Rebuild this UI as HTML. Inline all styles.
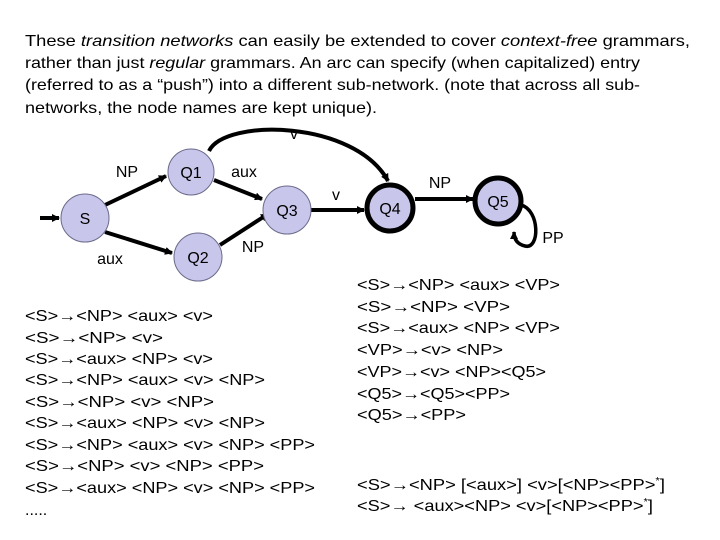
<!DOCTYPE html>
<html><head><meta charset="utf-8"><style>
html,body{margin:0;padding:0;background:#fff;}
svg{display:block;}
text{font-family:"Liberation Sans",Arial,sans-serif;fill:#000;}
</style></head><body>
<svg width="720" height="540" viewBox="0 0 720 540" xmlns="http://www.w3.org/2000/svg">
<defs>
<marker id="ah" markerWidth="8" markerHeight="8" refX="7" refY="4" orient="auto" markerUnits="userSpaceOnUse">
<path d="M0,0 L8,4 L0,8 z" fill="#000"/></marker>
</defs>
<g font-size="16">
<text x="25" y="46" textLength="665" lengthAdjust="spacingAndGlyphs">These <tspan font-style="italic">transition networks</tspan> can easily be extended to cover <tspan font-style="italic">context-free</tspan> grammars,</text>
<text x="25" y="68" textLength="615" lengthAdjust="spacingAndGlyphs">rather than just <tspan font-style="italic">regular</tspan> grammars. An arc can specify (when capitalized) entry</text>
<text x="25" y="90" textLength="615" lengthAdjust="spacingAndGlyphs">(referred to as a “push”) into a different sub-network. (note that across all sub-</text>
<text x="25" y="113" textLength="352" lengthAdjust="spacingAndGlyphs">networks, the node names are kept unique).</text>
</g>
<!-- edges -->
<g stroke="#000" stroke-width="4" fill="none">
<line x1="40" y1="218" x2="59" y2="218" marker-end="url(#ah)"/>
<line x1="105" y1="205" x2="166" y2="176" marker-end="url(#ah)"/>
<line x1="105" y1="232" x2="172" y2="253" marker-end="url(#ah)"/>
<line x1="214" y1="180" x2="262" y2="199" marker-end="url(#ah)"/>
<line x1="220" y1="245" x2="268" y2="214" marker-end="url(#ah)"/>
<line x1="311" y1="210" x2="364" y2="210" marker-end="url(#ah)"/>
<line x1="415" y1="199" x2="473" y2="199" marker-end="url(#ah)"/>
<path d="M209,151 C225,118 355,120 388,181" marker-end="url(#ah)"/>
<path d="M521,205 C540,210 540,250 525,246 C516,244 514,238 514,232" stroke-width="3.5" marker-end="url(#ah)"/>
</g>
<!-- nodes -->
<g fill="#c8c6ea" stroke="#6a6a8a" stroke-width="1">
<circle cx="85" cy="218" r="24"/>
<circle cx="191" cy="172" r="23"/>
<circle cx="198" cy="257" r="24"/>
<circle cx="287" cy="210" r="24"/>
</g>
<g fill="#c8c6ea" stroke="#000" stroke-width="5">
<circle cx="390" cy="208" r="23"/>
<circle cx="498" cy="201" r="23"/>
</g>
<g font-size="16" text-anchor="middle">
<text x="85" y="224">S</text>
<text x="191" y="178">Q1</text>
<text x="198" y="263">Q2</text>
<text x="287" y="216">Q3</text>
<text x="390" y="214">Q4</text>
<text x="498" y="207">Q5</text>
<text x="127" y="177">NP</text>
<text x="244" y="177">aux</text>
<text x="110" y="264">aux</text>
<text x="253" y="252">NP</text>
<text x="294" y="139">v</text>
<text x="336" y="200">v</text>
<text x="440" y="188">NP</text>
<text x="553" y="243">PP</text>
</g>
<g font-size="16">
<text x="25" y="321" textLength="188" lengthAdjust="spacingAndGlyphs">&lt;S&gt;→&lt;NP&gt; &lt;aux&gt; &lt;v&gt;</text>
<text x="25" y="343" textLength="138" lengthAdjust="spacingAndGlyphs">&lt;S&gt;→&lt;NP&gt;  &lt;v&gt;</text>
<text x="25" y="364" textLength="188" lengthAdjust="spacingAndGlyphs">&lt;S&gt;→&lt;aux&gt; &lt;NP&gt; &lt;v&gt;</text>
<text x="25" y="385" textLength="240" lengthAdjust="spacingAndGlyphs">&lt;S&gt;→&lt;NP&gt; &lt;aux&gt; &lt;v&gt; &lt;NP&gt;</text>
<text x="25" y="407" textLength="189" lengthAdjust="spacingAndGlyphs">&lt;S&gt;→&lt;NP&gt;  &lt;v&gt; &lt;NP&gt;</text>
<text x="25" y="428" textLength="240" lengthAdjust="spacingAndGlyphs">&lt;S&gt;→&lt;aux&gt; &lt;NP&gt; &lt;v&gt; &lt;NP&gt;</text>
<text x="25" y="450" textLength="290" lengthAdjust="spacingAndGlyphs">&lt;S&gt;→&lt;NP&gt; &lt;aux&gt; &lt;v&gt; &lt;NP&gt; &lt;PP&gt;</text>
<text x="25" y="471" textLength="239" lengthAdjust="spacingAndGlyphs">&lt;S&gt;→&lt;NP&gt;  &lt;v&gt; &lt;NP&gt; &lt;PP&gt;</text>
<text x="25" y="493" textLength="290" lengthAdjust="spacingAndGlyphs">&lt;S&gt;→&lt;aux&gt; &lt;NP&gt; &lt;v&gt; &lt;NP&gt; &lt;PP&gt;</text>
<text x="25" y="515">.....</text>

<text x="357" y="290" textLength="203" lengthAdjust="spacingAndGlyphs">&lt;S&gt;→&lt;NP&gt; &lt;aux&gt; &lt;VP&gt;</text>
<text x="357" y="312" textLength="153" lengthAdjust="spacingAndGlyphs">&lt;S&gt;→&lt;NP&gt;  &lt;VP&gt;</text>
<text x="357" y="333" textLength="203" lengthAdjust="spacingAndGlyphs">&lt;S&gt;→&lt;aux&gt; &lt;NP&gt; &lt;VP&gt;</text>
<text x="357" y="355" textLength="146" lengthAdjust="spacingAndGlyphs">&lt;VP&gt;→&lt;v&gt; &lt;NP&gt;</text>
<text x="357" y="377" textLength="189" lengthAdjust="spacingAndGlyphs">&lt;VP&gt;→&lt;v&gt; &lt;NP&gt;&lt;Q5&gt;</text>
<text x="357" y="399" textLength="153" lengthAdjust="spacingAndGlyphs">&lt;Q5&gt;→&lt;Q5&gt;&lt;PP&gt;</text>
<text x="357" y="420" textLength="109" lengthAdjust="spacingAndGlyphs">&lt;Q5&gt;→&lt;PP&gt;</text>
<text x="357" y="490" textLength="308" lengthAdjust="spacingAndGlyphs">&lt;S&gt;→&lt;NP&gt; [&lt;aux&gt;] &lt;v&gt;[&lt;NP&gt;&lt;PP&gt;<tspan font-size="10" dy="-6">*</tspan><tspan dy="6">]</tspan></text>
<text x="357" y="511" textLength="296" lengthAdjust="spacingAndGlyphs">&lt;S&gt;→ &lt;aux&gt;&lt;NP&gt; &lt;v&gt;[&lt;NP&gt;&lt;PP&gt;<tspan font-size="10" dy="-6">*</tspan><tspan dy="6">]</tspan></text>
</g>
</svg>
</body></html>
